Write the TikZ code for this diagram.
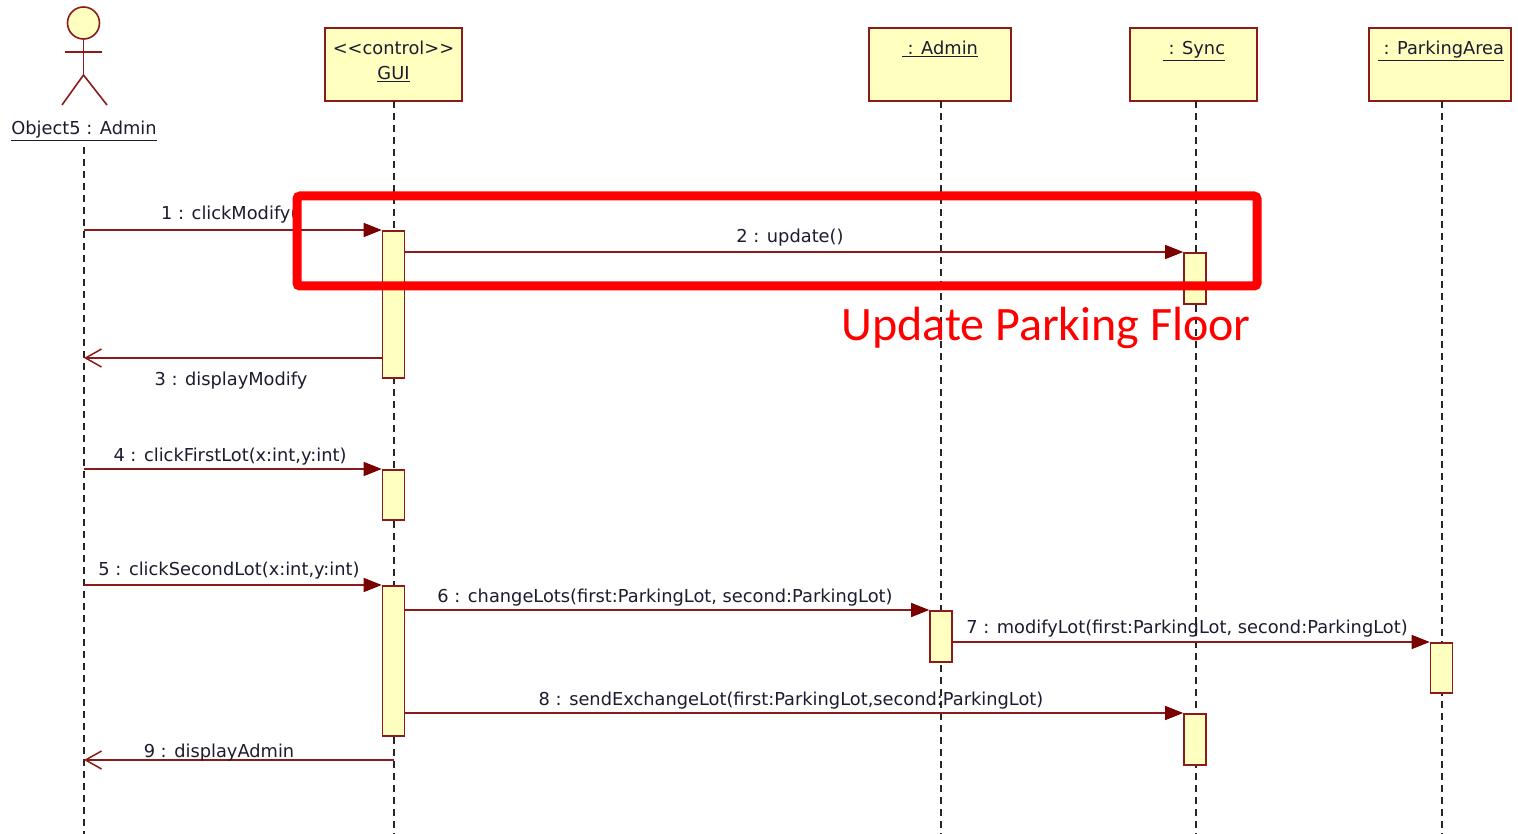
\documentclass[tikz,border=0pt]{standalone}
\usepackage{fontspec}
\setmainfont{DejaVu Sans}
\newfontfamily\calfont{Carlito}
\usetikzlibrary{arrows.meta}
\definecolor{ln}{RGB}{140,26,26}
\definecolor{tipc}{RGB}{122,0,0}
\definecolor{bx}{RGB}{255,255,192}
\definecolor{txt}{RGB}{28,28,48}
\definecolor{hlred}{RGB}{255,0,0}
\begin{document}
\begin{tikzpicture}[x=1pt,y=-1pt,
 lbl/.style={font=\fontsize{17.8}{20}\selectfont, text=txt, inner sep=0pt, anchor=base},
 objbox/.style={draw=ln, fill=bx, line width=2pt, inner sep=0pt, minimum height=73pt},
 actbox/.style={draw=ln, fill=bx, line width=1.6pt, inner sep=0pt, minimum width=22pt, anchor=north},
 life/.style={draw=black!85, line width=1.4pt, dash pattern=on 7pt off 5pt},
 msg/.style={draw=ln, line width=1.5pt, -{Triangle[length=18pt,width=14pt,fill=tipc,color=tipc]}},
 ret/.style={draw=ln, line width=1.5pt, -{Straight Barb[length=16pt,width=18pt,line width=1.5pt]}},
 stick/.style={draw=ln, line width=1.6pt},
]
\useasboundingbox (0,0) rectangle (1518,834);
\fill[white] (0,0) rectangle (1518,834);

% actor
\node (head) [circle, draw=ln, fill=bx, line width=1.6pt, minimum size=32pt, inner sep=0pt] at (83.5,23) {};
\coordinate (hip) at (83.5,75);
\coordinate (armL) at (65,52);
\coordinate (armR) at (102,52);
\coordinate (footL) at (62,105);
\coordinate (footR) at (107,105);
\draw[stick] (head.south) -- (hip);
\draw[stick] (armL) -- (armR);
\draw[stick] (footL) -- (hip) -- (footR);
\node (actlbl) [lbl] at (84,135) {\underline{Object5 : Admin}};

% object boxes
\node (gui) [objbox, minimum width=137pt] at (393.5,64.5) {};
\node (adm) [objbox, minimum width=142pt] at (940,64.5) {};
\node (syn) [objbox, minimum width=127pt] at (1193.5,64.5) {};
\node (par) [objbox, minimum width=142pt] at (1440,64.5) {};
\node (guis) [lbl] at (393.5,55) {<{}<control>{}>};
\node (guin) [lbl] at (393.5,80) {\underline{GUI}};
\node (admn) [lbl] at (940,55) {\underline{\ : Admin}};
\node (synn) [lbl] at (1194,55) {\underline{\ : Sync}};
\node (parn) [lbl] at (1441,55) {\underline{\ : ParkingArea}};

% lifelines
\coordinate (actT) at (84,147);
\coordinate (actB) at (84,834);
\coordinate (guiT) at (394,101);
\coordinate (guiB) at (394,834);
\coordinate (admT) at (941,101);
\coordinate (admB) at (941,834);
\coordinate (synT) at (1196,101);
\coordinate (synB) at (1196,834);
\coordinate (parT) at (1442,101);
\coordinate (parB) at (1442,834);
\draw[life] (actT) -- (actB);
\draw[life] (guiT) -- (guiB);
\draw[life] (admT) -- (admB);
\draw[life] (synT) -- (synB);
\draw[life] (parT) -- (parB);

% activations
\node (ga1) [actbox, minimum height=147pt] at (393.5,230) {};
\node (ga2) [actbox, minimum height=50pt] at (393.5,469) {};
\node (ga3) [actbox, minimum height=150pt] at (393.5,585) {};
\node (sa1) [actbox, minimum height=51pt] at (1195,252) {};
\node (sa2) [actbox, minimum height=51pt] at (1195,713) {};
\node (aa1) [actbox, minimum height=51pt] at (941,610) {};
\node (pa1) [actbox, minimum height=50pt] at (1441.5,642) {};

% messages
\coordinate (m3) at (84,358);
\coordinate (m9) at (84,760);
\draw[msg] (actT |- ga1.north west) -- (ga1.north west);
\draw[msg] (ga1.east |- sa1.north west) -- (sa1.north west);
\draw[ret] (ga1.west |- m3) -- (m3);
\draw[msg] (actT |- ga2.north west) -- (ga2.north west);
\draw[msg] (actT |- ga3.north west) -- (ga3.north west);
\draw[msg] (ga3.east |- aa1.north west) -- (aa1.north west);
\draw[msg] (aa1.east |- pa1.north west) -- (pa1.north west);
\draw[msg] (ga3.east |- sa2.north west) -- (sa2.north west);
\draw[ret] (guiT |- m9) -- (m9);

% labels
\node (l1) [lbl, anchor=base west] at (161,220) {1 : clickModify(};
\node (l2) [lbl] at (790,243) {2 : update()};
\node (l3) [lbl] at (231,385) {3 : displayModify};
\node (l4) [lbl] at (230,461) {4 : clickFirstLot(x:int,y:int)};
\node (l5) [lbl] at (229,575) {5 : clickSecondLot(x:int,y:int)};
\node (l6) [lbl] at (665,602) {6 : changeLots(first:ParkingLot, second:ParkingLot)};
\node (l7) [lbl] at (1187,633) {7 : modifyLot(first:ParkingLot, second:ParkingLot)};
\node (l8) [lbl] at (791,705) {8 : sendExchangeLot(first:ParkingLot,second:ParkingLot)};
\node (l9) [lbl] at (219,757) {9 : displayAdmin};

% highlight
\node (hl) [draw=hlred, line width=9pt, rounded corners=3pt, minimum width=960pt, minimum height=90pt, inner sep=0pt] at (777,241) {};
\node (hlt) [font=\calfont\fontsize{48}{52}\selectfont, text=hlred, inner sep=0pt, anchor=base] at (1046,341) {Update Parking Floor};
\end{tikzpicture}
\end{document}
